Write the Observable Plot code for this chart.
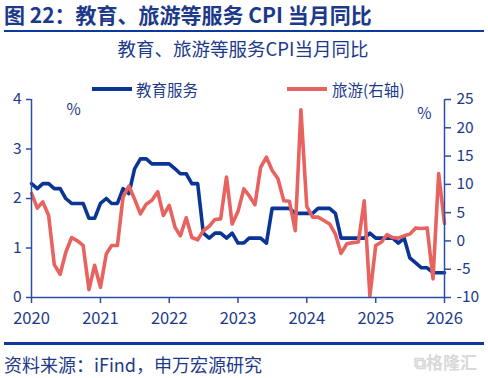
<!DOCTYPE html>
<html>
<head>
<meta charset="utf-8">
<script src="https://cdn.jsdelivr.net/npm/d3@7"></script>
<script src="https://cdn.jsdelivr.net/npm/@observablehq/plot@0.6"></script>
<style>
  html, body { margin: 0; padding: 0; background: #fff; }
  body { width: 488px; height: 378px; position: relative; overflow: hidden;
         font-family: "Noto Sans CJK SC", "Noto Sans", sans-serif; color: #1d3a8a; }
  .abs { position: absolute; white-space: nowrap; }
  #title { left: 4px; top: 3px; font-size: 21px; line-height: 23px; font-weight: bold; color: #1d3a8a; }
  .rule { position: absolute; left: 4px; width: 480px; height: 2.5px; background: #0a3a9a; }
  #subtitle { left: 0; width: 486px; top: 38px; text-align: center; font-size: 18.5px; line-height: 21px; color: #1d3a8a; }
  .legline { position: absolute; height: 4px; }
  .legtext { font-size: 15.5px; line-height: 18px; color: #1d3a8a; }
  #chart { position: absolute; left: 0; top: 64px; }
  #source { left: 4px; top: 354px; font-size: 18px; line-height: 20px; color: #1d3a8a; }
  #wm { left: 414px; top: 352px; font-size: 17px; line-height: 20px; color: #d9d9d9; font-weight: bold; }
</style>
</head>
<body>
<div id="title" class="abs">图 22：教育、旅游等服务 CPI 当月同比</div>
<div class="rule" style="top:29.5px"></div>
<div id="subtitle" class="abs">教育、旅游等服务CPI当月同比</div>
<div class="legline" style="left:92px; top:87px; width:40px; background:#0b3595"></div>
<div class="abs legtext" style="left:136px; top:80px">教育服务</div>
<div class="legline" style="left:287px; top:87px; width:40px; background:#e8635f"></div>
<div class="abs legtext" style="left:332px; top:80px">旅游(右轴)</div>
<div id="chart"></div>
<div class="rule" style="top:342px"></div>
<div id="source" class="abs">资料来源：iFind，申万宏源研究</div>
<div id="wm" class="abs">⧉格隆汇</div>
<script>
// Monthly, Jan 2020 – Jan 2026
const eduValues = [
  2.3, 2.2, 2.3, 2.3, 2.2, 2.2, 2.0, 1.9, 1.9, 1.9, 1.6, 1.6,
  1.9, 2.0, 1.9, 1.9, 2.2, 2.1, 2.6, 2.8, 2.8, 2.7, 2.7, 2.7,
  2.7, 2.6, 2.5, 2.5, 2.3, 2.3, 1.3, 1.2, 1.3, 1.3, 1.2, 1.3,
  1.1, 1.1, 1.2, 1.2, 1.2, 1.1, 1.8, 1.8, 1.8, 1.8, 1.7, 1.7,
  1.7, 1.7, 1.8, 1.8, 1.8, 1.7, 1.2, 1.2, 1.2, 1.2, 1.2, 1.3,
  1.2, 1.2, 1.2, 1.2, 1.1, 1.2, 0.8, 0.7, 0.6, 0.6, 0.5, 0.5,
  0.5
];
const tourValues = [
  8.4, 5.8, 6.9, 4.5, -4.2, -5.9, -2.0, 0.6, 0.0, -0.8, -8.6, -4.3,
  -8.2, -2.3, -0.8, -0.8, 7.8, 9.7, 7.4, 4.8, 6.5, 7.2, 8.7, 4.5,
  6.3, 2.4, 0.9, 4.1, 0.6, 0.2, 1.8, 2.6, 3.8, 3.9, 11.3, 3.0,
  5.2, 9.2, 8.0, 6.4, 13.0, 14.8, 12.5, 11.0, 7.1, 7.0, 1.8, 23.2,
  6.1, 4.2, 4.2, 3.6, 3.0, 1.2, -2.2, -0.5, -0.3, -0.2, 7.1, -9.7,
  -0.8, -0.2, 1.1, 0.6, 0.5, 0.9, 1.2, 2.3, 2.2, 2.3, -6.7, 11.9,
  3.1
];
const yearTicks = [2020, 2021, 2022, 2023, 2024, 2025, 2026];
const leftTicks = [0, 1, 2, 3, 4];
const rightTicks = [-10, -5, 0, 5, 10, 15, 20, 25];

const leftDomain = [0, 4];
const rightDomain = [-10, 25];
const toLeft = v => leftDomain[0] + (v - rightDomain[0]) / (rightDomain[1] - rightDomain[0]) * (leftDomain[1] - leftDomain[0]);
const fromLeft = v => rightDomain[0] + (v - leftDomain[0]) / (leftDomain[1] - leftDomain[0]) * (rightDomain[1] - rightDomain[0]);

const start = new Date(Date.UTC(2020, 0, 1));
const months = d3.utcMonth.range(start, new Date(Date.UTC(2026, 1, 1)));
const data = months.map((date, i) => ({date, edu: eduValues[i], tour: tourValues[i]}));
const xDomain = [start, new Date(Date.UTC(2026, 0, 1))];

const axisColor = "#2d4fa3";
const textColor = "#1d3a8a";
const font = "\"Noto Sans CJK SC\", sans-serif";

const chart = Plot.plot({
  width: 488,
  height: 270,
  marginTop: 35,
  marginBottom: 37,
  marginLeft: 31,
  marginRight: 44,
  style: {fontFamily: font, fontSize: "15.5px", color: textColor, background: "transparent", overflow: "visible"},
  x: {type: "utc", domain: xDomain},
  y: {domain: leftDomain},
  marks: [
    Plot.line(data, {x: "date", y: "edu", stroke: "#0b3595", strokeWidth: 3.6, strokeLinejoin: "round"}),
    Plot.line(data, {x: "date", y: d => toLeft(d.tour), stroke: "#e8635f", strokeWidth: 3.6, strokeLinejoin: "round"}),
    Plot.ruleX([xDomain[0]], {y1: leftDomain[0], y2: leftDomain[1], stroke: axisColor, strokeWidth: 1.5}),
    Plot.ruleX([xDomain[1]], {y1: leftDomain[0], y2: leftDomain[1], stroke: axisColor, strokeWidth: 1.5}),
    Plot.ruleY([leftDomain[0]], {stroke: axisColor, strokeWidth: 1.5}),
    Plot.axisY(leftTicks, {anchor: "left", tickSize: 5, tickPadding: 5, stroke: axisColor, fill: textColor, strokeWidth: 1.5, tickFormat: d => String(d), label: null}),
    Plot.axisY(rightTicks.map(toLeft), {anchor: "right", tickSize: 6, tickPadding: 6, stroke: axisColor, fill: textColor, strokeWidth: 1.5, tickFormat: d => String(Math.round(fromLeft(d))), label: null}),
    Plot.axisX(yearTicks.map(y => new Date(Date.UTC(y, 0, 1))), {anchor: "bottom", tickSize: 6, tickPadding: 9, stroke: axisColor, fill: textColor, strokeWidth: 1.5, fontSize: "16.5px", tickFormat: d => String(d.getUTCFullYear()), label: null}),
    Plot.text(["%"], {frameAnchor: "top-left", dx: 35, dy: 4, fill: textColor, fontSize: 15.5}),
    Plot.text(["%"], {frameAnchor: "top-right", dx: -13, dy: 8, fill: textColor, fontSize: 15.5})
  ]
});
document.getElementById("chart").appendChild(chart);
</script>
</body>
</html>
